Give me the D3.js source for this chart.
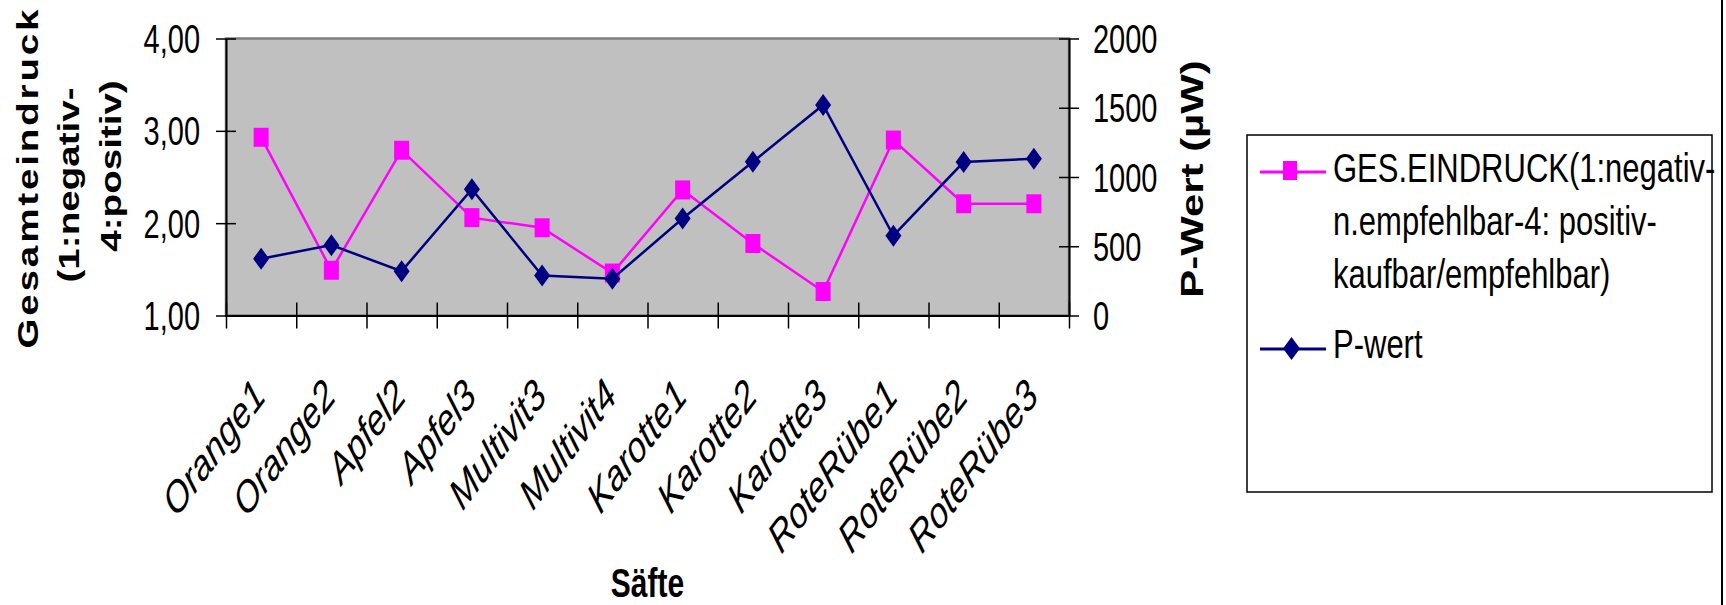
<!DOCTYPE html>
<html>
<head>
<meta charset="utf-8">
<script src="https://cdn.jsdelivr.net/npm/d3@7"></script>
<style>
  html, body { margin: 0; padding: 0; background: #fff; }
  svg { display: block; }
  text { font-family: "Liberation Sans", Arial, sans-serif; fill: #000; }
</style>
</head>
<body>
<svg id="chart" width="1726" height="605"></svg>
<script>
// Juice samples on the category axis
const categories = ["Orange1", "Orange2", "Apfel2", "Apfel3", "Multivit3", "Multivit4",
                    "Karotte1", "Karotte2", "Karotte3", "RoteRübe1", "RoteRübe2", "RoteRübe3"];
// Overall impression (1 = negative ... 4 = positive), primary axis
const gesEindruck = [2.93, 1.49, 2.79, 2.06, 1.95, 1.46, 2.36, 1.78, 1.26, 2.90, 2.21, 2.21];
// P value in µW, secondary axis
const pWert = [410, 508, 320, 912, 288, 265, 700, 1110, 1520, 576, 1108, 1132];
// Axis ticks
const leftTicks = [1, 2, 3, 4];
const rightTicks = [0, 500, 1000, 1500, 2000];
// Text
const leftTitleLines = ["Gesamteindruck", "(1:negativ-", "4:positiv)"];
const rightTitle = "P-Wert (µW)";
const xTitle = "Säfte";
const legendLines1 = ["GES.EINDRUCK(1:negativ-", "n.empfehlbar-4: positiv-", "kaufbar/empfehlbar)"];
const legendLabel2 = "P-wert";

const PINK = "#ff00ff", NAVY = "#000080";
const K = 1.33;      // vertical stretch of all lettering
const FS = 29;       // base font size

const svg = d3.select("#chart");
const plot = { left: 226, right: 1069, top: 38.5, bottom: 315.5 };

const x = d3.scaleBand().domain(categories).range([plot.left, plot.right]).padding(0);
const xEdges = d3.scaleLinear().domain([0, categories.length]).range([plot.left, plot.right]);
const yL = d3.scaleLinear().domain([1, 4]).range([plot.bottom, plot.top]);
const yR = d3.scaleLinear().domain([0, 2000]).range([plot.bottom, plot.top]);
const cx = c => x(c) + x.bandwidth() / 2;

// plot area
svg.append("rect")
  .attr("x", plot.left).attr("y", plot.top)
  .attr("width", plot.right - plot.left).attr("height", plot.bottom - plot.top)
  .attr("fill", "#c0c0c0").attr("stroke", "#808080").attr("stroke-width", 2.5);

// axes
const fmtDE = d => d3.format(".2f")(d).replace(".", ",");
function styleAxis(g) {
  g.select(".domain").attr("stroke", "#000").attr("stroke-width", 2);
  g.selectAll(".tick line").attr("stroke", "#000").attr("stroke-width", 1.5);
  g.selectAll(".tick text").remove();
}
const gLeft = svg.append("g").attr("transform", `translate(${plot.left},0)`)
  .call(d3.axisLeft(yL).tickValues(leftTicks).tickSizeInner(10).tickSizeOuter(0))
  .call(styleAxis);
gLeft.selectAll(".tick line").attr("x2", -10).attr("x1", 10);
const gRight = svg.append("g").attr("transform", `translate(${plot.right},0)`)
  .call(d3.axisRight(yR).tickValues(rightTicks).tickSizeInner(10).tickSizeOuter(0))
  .call(styleAxis);
gRight.selectAll(".tick line").attr("x1", -10).attr("x2", 10);
const gBottom = svg.append("g").attr("transform", `translate(0,${plot.bottom})`)
  .call(d3.axisBottom(xEdges).tickValues(d3.range(categories.length + 1)).tickSizeInner(13).tickSizeOuter(0))
  .call(styleAxis);
gBottom.selectAll(".tick line").attr("y1", -13).attr("y2", 13);

// helper: vertically stretched text
function sText(parent, str, tx, ty, opts = {}) {
  const rot = opts.rotate || 0;
  const t = parent.append("text")
    .attr("transform", `translate(${tx},${ty}) scale(1,${opts.k || K}) rotate(${rot})`)
    .attr("font-size", opts.size || FS)
    .attr("text-anchor", opts.anchor || "start")
    .text(str);
  if (opts.bold) t.attr("font-weight", "bold");
  if (opts.italic) t.attr("font-style", "italic");
  if (opts.dy) t.attr("dy", opts.dy);
  if (opts.length) t.attr("textLength", opts.length).attr("lengthAdjust", "spacing");
  return t;
}

// tick labels
leftTicks.forEach(v => sText(svg, fmtDE(v), 200, yL(v), { anchor: "end", dy: "0.36em", k: 1.4 }));
rightTicks.forEach(v => sText(svg, String(v), 1093, yR(v), { anchor: "start", dy: "0.36em", k: 1.4 }));

// category labels
categories.forEach(c => sText(svg, c, cx(c) + 6, 398, { anchor: "end", italic: true, rotate: -45, size: 33 }));

// axis titles
const leftTitlePos = [[37.5, 179], [79, 185], [120.5, 166]];
leftTitleLines.forEach((s, i) => sText(svg, s, leftTitlePos[i][0], leftTitlePos[i][1],
  { anchor: "middle", bold: true, rotate: -90, length: i === 0 ? 255 : null }));
sText(svg, rightTitle, 1203, 179, { anchor: "middle", bold: true, rotate: -90, size: 31.5 });
sText(svg, xTitle, (plot.left + plot.right) / 2, 597, { anchor: "middle", bold: true, size: 30 });

// series
const squarePath = (w, h) => `M${-w/2},${-h/2}h${w}v${h}h${-w}Z`;
const diamondPath = (w, h) => `M0,${-h/2}L${w/2},0L0,${h/2}L${-w/2},0Z`;

const lineG = d3.line().x((d, i) => cx(categories[i])).y(d => yL(d));
svg.append("path").datum(gesEindruck).attr("d", lineG)
  .attr("fill", "none").attr("stroke", PINK).attr("stroke-width", 2.5);
svg.append("g").selectAll("path").data(gesEindruck).join("path")
  .attr("transform", (d, i) => `translate(${cx(categories[i])},${yL(d)})`)
  .attr("d", squarePath(15, 19)).attr("fill", PINK);

const lineP = d3.line().x((d, i) => cx(categories[i])).y(d => yR(d));
svg.append("path").datum(pWert).attr("d", lineP)
  .attr("fill", "none").attr("stroke", NAVY).attr("stroke-width", 2.5);
svg.append("g").selectAll("path").data(pWert).join("path")
  .attr("transform", (d, i) => `translate(${cx(categories[i])},${yR(d)})`)
  .attr("d", diamondPath(16, 22)).attr("fill", NAVY);

// legend
const lg = svg.append("g");
lg.append("rect").attr("x", 1247).attr("y", 135).attr("width", 465).attr("height", 357)
  .attr("fill", "#fff").attr("stroke", "#000").attr("stroke-width", 1.5);
lg.append("line").attr("x1", 1260).attr("x2", 1326).attr("y1", 172).attr("y2", 172)
  .attr("stroke", PINK).attr("stroke-width", 3);
lg.append("path").attr("transform", "translate(1290,170.5)").attr("d", squarePath(14, 19)).attr("fill", PINK);
legendLines1.forEach((s, i) => sText(lg, s, 1333, 182 + i * 53, { size: 31 }));
lg.append("line").attr("x1", 1260).attr("x2", 1326).attr("y1", 349).attr("y2", 349)
  .attr("stroke", NAVY).attr("stroke-width", 3);
lg.append("path").attr("transform", "translate(1291.5,348.5)").attr("d", diamondPath(17, 23)).attr("fill", NAVY);
sText(lg, legendLabel2, 1333, 358, { size: 31 });

// right edge of the chart frame
svg.append("line").attr("x1", 1722).attr("x2", 1722).attr("y1", 0).attr("y2", 605)
  .attr("stroke", "#000").attr("stroke-width", 2);
</script>
</body>
</html>
